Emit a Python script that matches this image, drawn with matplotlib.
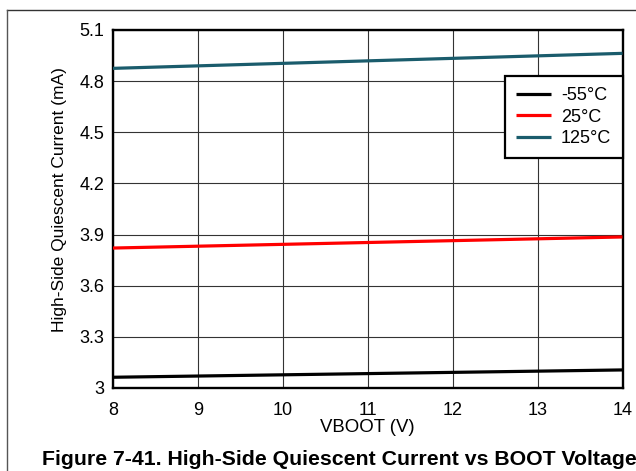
import matplotlib
matplotlib.use("Agg")
import matplotlib.pyplot as plt
from matplotlib.lines import Line2D

plt.rcParams['font.family'] = ['Liberation Sans', 'DejaVu Sans']

vboot = [8, 14]
i_m55 = [3.063, 3.106]
i_25 = [3.821, 3.886]
i_125 = [4.875, 4.963]
labels = ['-55°C', '25°C', '125°C']
colors = ['#000000', '#ff0000', '#1a5c6c']
xticks = [8, 9, 10, 11, 12, 13, 14]
yticks = [3, 3.3, 3.6, 3.9, 4.2, 4.5, 4.8, 5.1]

fig = plt.figure(figsize=(6.36, 4.71), dpi=100)
ax = fig.add_axes([113/636, 1-388/471, (622.5-113)/636, (388-30)/471])

for y, lab, c in zip([i_m55, i_25, i_125], labels, colors):
    ax.plot(vboot, y, color=c, lw=2.3, label=lab, solid_capstyle='butt', zorder=3)

ax.set_xlim(8, 14)
ax.set_ylim(3, 5.1)
ax.set_xticks(xticks)
ax.set_yticks(yticks)
ax.set_xticklabels([str(v) for v in xticks])
ax.set_yticklabels(['3', '3.3', '3.6', '3.9', '4.2', '4.5', '4.8', '5.1'])
ax.grid(True, color='#333333', lw=0.8)
ax.tick_params(length=0, labelsize=13, colors='black')
ax.tick_params(axis='x', pad=10)
ax.tick_params(axis='y', pad=6)
for s in ax.spines.values():
    s.set_linewidth(1.7)
    s.set_color('black')

ax.set_xlabel('VBOOT (V)', fontsize=13.4)
ax.xaxis.set_label_coords(0.5, (388-418.5)/358)
ax.set_ylabel('High-Side Quiescent Current (mA)', fontsize=12.5)
ax.yaxis.set_label_coords((67-113)/509.5, (388-200)/358)

leg = ax.legend(loc='upper right', bbox_to_anchor=(1.0, (388-76)/358), fontsize=13,
                frameon=True, fancybox=False, framealpha=1, edgecolor='black',
                handlelength=1.95, handletextpad=0.55, borderpad=0.62,
                labelspacing=0.25, borderaxespad=0)
leg.get_frame().set_linewidth(1.6)

fig.add_artist(Line2D([7/636, 1], [1-10/471, 1-10/471], transform=fig.transFigure, color='#333333', lw=1))
fig.add_artist(Line2D([7/636, 7/636], [0, 1-10/471], transform=fig.transFigure, color='#555555', lw=1))

fig.text(339/636, 1-465/471, 'Figure 7-41. High-Side Quiescent Current vs BOOT Voltage',
         ha='center', va='baseline', fontsize=15.3, fontweight='bold')

fig.savefig('out.png', dpi=100)
